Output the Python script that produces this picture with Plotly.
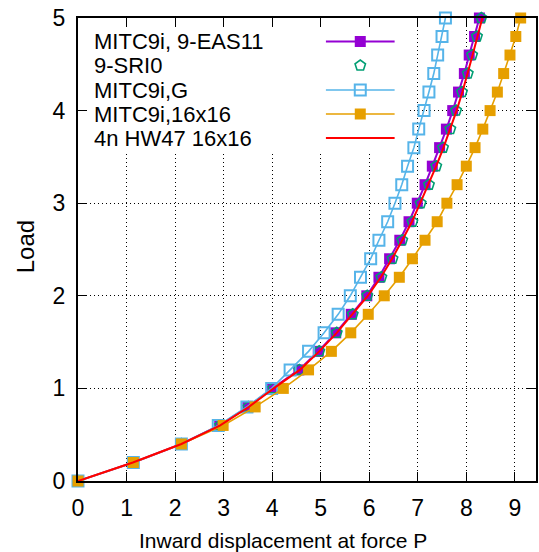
import plotly.graph_objects as go

# ---------------- data ----------------
load = [0.0, 0.2, 0.4, 0.6, 0.8, 1.0, 1.2, 1.4, 1.6, 1.8, 2.0, 2.2, 2.4,
        2.6, 2.8, 3.0, 3.2, 3.4, 3.6, 3.8, 4.0, 4.2, 4.4, 4.6, 4.8, 5.0]

mitc9i_eas11 = [0, 1.14, 2.13, 2.92, 3.50, 4.01, 4.55, 4.95, 5.31, 5.63, 5.95, 6.20, 6.42,
                6.63, 6.82, 6.99, 7.15, 7.30, 7.45, 7.59, 7.72, 7.84, 7.96, 8.06, 8.17, 8.27]
sri0 = [0, 1.14, 2.13, 2.93, 3.51, 4.02, 4.56, 4.97, 5.33, 5.66, 5.96, 6.25, 6.48,
        6.68, 6.89, 7.06, 7.23, 7.38, 7.52, 7.67, 7.79, 7.91, 8.03, 8.12, 8.22, 8.31]
mitc9i_g = [0, 1.14, 2.13, 2.89, 3.48, 3.99, 4.37, 4.75, 5.07, 5.36, 5.61, 5.82, 6.03,
            6.20, 6.38, 6.53, 6.67, 6.79, 6.92, 7.02, 7.13, 7.23, 7.33, 7.41, 7.50, 7.57]
mitc9i_16 = [0, 1.14, 2.13, 2.99, 3.65, 4.23, 4.75, 5.22, 5.62, 5.98, 6.31, 6.62, 6.89,
             7.15, 7.40, 7.60, 7.81, 8.00, 8.18, 8.34, 8.49, 8.64, 8.77, 8.90, 9.02, 9.12]
hw47 = [0, 1.13, 2.13, 2.93, 3.52, 4.03, 4.57, 4.97, 5.33, 5.66, 5.97, 6.24, 6.47,
        6.68, 6.88, 7.05, 7.22, 7.38, 7.53, 7.67, 7.80, 7.92, 8.03, 8.13, 8.23, 8.33]

names = ["MITC9i, 9-EAS11", "9-SRI0", "MITC9i,G", "MITC9i,16x16", "4n HW47 16x16"]
x_ticks = [0, 1, 2, 3, 4, 5, 6, 7, 8, 9]
y_ticks = [0, 1, 2, 3, 4, 5]
x_title = "Inward displacement at force P"
y_title = "Load"

# ---------------- styles ----------------
FONT = "Liberation Sans, Arial, sans-serif"
styles = [
    dict(mode="lines+markers", line=dict(color="#9400D3", width=2),
         marker=dict(symbol="square", size=11, color="#9400D3")),
    dict(mode="markers",
         marker=dict(symbol="pentagon-open", size=11, color="#009E73", line=dict(width=1.6, color="#009E73"))),
    dict(mode="lines+markers", line=dict(color="#56B4E9", width=1.6),
         marker=dict(symbol="square-open", size=11, color="#56B4E9", line=dict(width=2, color="#56B4E9"))),
    dict(mode="lines+markers", line=dict(color="#E69F00", width=1.6),
         marker=dict(symbol="square", size=11, color="#E69F00")),
    dict(mode="lines", line=dict(color="#FF0000", width=2)),
]
series = [mitc9i_eas11, sri0, mitc9i_g, mitc9i_16, hw47]

W, H = 539, 552
L, R, T, B = 78, 1, 18, 71
XMAX = 9.436
pw, ph = W - L - R, H - T - B


def px_to_paper_x(px):
    return (px - L) / pw


def px_to_paper_y(py):
    return (H - B - py) / ph


fig = go.Figure()
for nm, xs, st in zip(names, series, styles):
    fig.add_trace(go.Scatter(x=xs, y=load, name=nm, showlegend=False, cliponaxis=False, **st))

# ---------------- manual key (text left, sample right), in pixel helper axes ----------------
key_rows = [41.5, 65.5, 90, 114, 138]
key_text_x = 92
key_line = [327, 396]
key_mark = 361.5
for nm, st, yy in zip(names, styles, key_rows):
    if "lines" in st["mode"]:
        fig.add_trace(go.Scatter(x=key_line, y=[yy, yy], mode="lines", line=st["line"],
                                 xaxis="x2", yaxis="y2", showlegend=False, hoverinfo="skip"))
    if "markers" in st["mode"]:
        fig.add_trace(go.Scatter(x=[key_mark], y=[yy], mode="markers", marker=st["marker"],
                                 xaxis="x2", yaxis="y2", showlegend=False, hoverinfo="skip"))
    fig.add_annotation(x=key_text_x, y=yy, xref="x2", yref="y2", text=nm, showarrow=False,
                       xanchor="left", yanchor="middle", font=dict(family=FONT, size=22, color="black"))

# opaque key box (hides grid, drawn under traces)
fig.add_shape(type="rect", xref="x", yref="y",
              x0=0, x1=(410 - L) / pw * XMAX, y0=5, y1=(H - B - 153) / ph * 5,
              fillcolor="white", line=dict(width=0), layer="between")

# axis titles as annotations (positioned like the reference)
fig.add_annotation(x=px_to_paper_x(284), y=px_to_paper_y(540), xref="paper", yref="paper",
                   text=x_title, showarrow=False, xanchor="center", yanchor="middle",
                   font=dict(family=FONT, size=21, color="black"))
fig.add_annotation(x=px_to_paper_x(25), y=px_to_paper_y(247), xref="paper", yref="paper",
                   text=y_title, showarrow=False, textangle=-90, xanchor="center", yanchor="middle",
                   font=dict(family=FONT, size=24, color="black"))

axis_common = dict(
    showline=True, linecolor="black", linewidth=2, mirror="ticks",
    ticks="inside", ticklen=9, tickwidth=1, tickcolor="black",
    showgrid=True, gridcolor="black", gridwidth=1, griddash="1px,3px",
    zeroline=False, tickfont=dict(family=FONT, size=23, color="black"),
)

fig.update_layout(
    width=W, height=H,
    margin=dict(l=L, r=R, t=T, b=B),
    paper_bgcolor="white", plot_bgcolor="white",
    font=dict(family=FONT, size=20, color="black"),
    xaxis=dict(range=[0, XMAX], tickvals=x_ticks, ticktext=[str(v) for v in x_ticks],
               ticklabelstandoff=5, **axis_common),
    yaxis=dict(range=[0, 5], tickvals=y_ticks, ticktext=[str(v) for v in y_ticks],
               ticklabelstandoff=6, **axis_common),
    xaxis2=dict(overlaying="x", range=[L, W - R], visible=False, fixedrange=True),
    yaxis2=dict(overlaying="y", range=[H - B, T], visible=False, fixedrange=True),
)

fig.write_html("out.html")
